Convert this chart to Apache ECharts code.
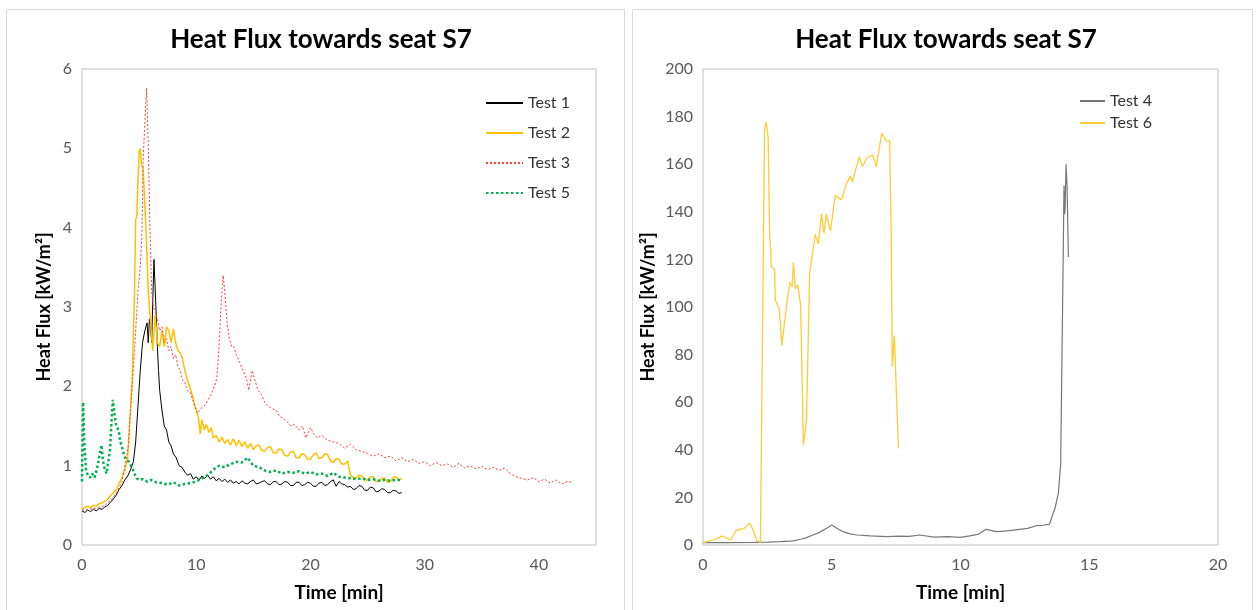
<!DOCTYPE html>
<html>
<head>
<meta charset="utf-8">
<script src="https://cdn.jsdelivr.net/npm/echarts@6/dist/echarts.min.js"></script>
<style>
html,body{margin:0;padding:0;background:#fff;}
#chart{width:1257px;height:610px;}
</style>
</head>
<body>
<div id="chart"></div>
<script>
// ---- Titles / labels ----
const chartTitle = 'Heat Flux towards seat S7';
const yAxisName = 'Heat Flux [kW/m²]';
const xAxisName = 'Time [min]';

// ---- Left chart series: [time (min), heat flux (kW/m²)] ----
const test1 = [
[0,0.43],[0.25,0.41],[0.5,0.44],[0.75,0.42],[1,0.45],[1.25,0.43],[1.5,0.46],[1.75,0.45],[2,0.48],[2.25,0.5],
[2.5,0.54],[2.75,0.58],[3,0.63],[3.25,0.7],[3.5,0.75],[3.75,0.82],[4,0.87],[4.25,0.95],[4.5,1.05],[4.7,1.3],
[4.9,1.75],[5.1,2.2],[5.3,2.55],[5.5,2.7],[5.7,2.8],[5.8,2.55],[5.9,2.85],[6,2.75],[6.1,2.55],[6.2,3.1],
[6.3,3.6],[6.4,3.25],[6.5,2.9],[6.6,2.5],[6.7,2.2],[6.8,1.95],[7,1.7],[7.2,1.5],[7.4,1.45],[7.6,1.3],
[7.8,1.25],[8,1.15],[8.25,1.1],[8.5,1.0],[8.75,0.98],[9,0.92],[9.25,0.88],[9.5,0.9],[9.75,0.83],[10,0.86],
[10.25,0.82],[10.5,0.87],[10.75,0.84],[11,0.88],[11.25,0.83],[11.5,0.86],[11.75,0.81],[12,0.84],[12.25,0.8],[12.5,0.83],
[12.75,0.79],[13,0.82],[13.25,0.78],[13.5,0.8],[13.75,0.77],[14,0.81],[14.25,0.78],[14.5,0.77],[14.75,0.8],[15,0.82],
[15.25,0.77],[15.5,0.78],[15.75,0.8],[16,0.81],[16.25,0.77],[16.5,0.76],[16.75,0.8],[17,0.8],[17.25,0.76],[17.5,0.77],
[17.75,0.8],[18,0.79],[18.25,0.75],[18.5,0.75],[18.75,0.79],[19,0.79],[19.25,0.75],[19.5,0.76],[19.75,0.79],[20,0.78],
[20.25,0.74],[20.5,0.74],[20.75,0.78],[21,0.79],[21.25,0.75],[21.5,0.76],[21.75,0.8],[22,0.82],[22.25,0.74],[22.5,0.8],
[22.75,0.77],[23,0.76],[23.25,0.73],[23.5,0.74],[23.75,0.7],[24,0.71],[24.25,0.75],[24.5,0.74],[24.75,0.69],[25,0.69],
[25.25,0.73],[25.5,0.72],[25.75,0.67],[26,0.68],[26.25,0.71],[26.5,0.7],[26.75,0.66],[27,0.66],[27.25,0.69],[27.5,0.68],
[27.75,0.65],[28,0.66]
];
const test2 = [
[0,0.46],[0.25,0.47],[0.5,0.49],[0.75,0.47],[1,0.5],[1.25,0.49],[1.5,0.52],[1.75,0.53],[2,0.55],[2.25,0.58],
[2.5,0.62],[2.75,0.66],[3,0.7],[3.25,0.78],[3.5,0.85],[3.75,0.95],[4,1.1],[4.2,1.6],[4.4,2.1],[4.6,3.2],
[4.7,4.1],[4.8,4.15],[4.9,4.6],[5,4.95],[5.1,5.0],[5.2,4.8],[5.35,4.75],[5.5,4.3],[5.65,3.8],[5.8,3.2],
[6,2.8],[6.2,2.45],[6.4,2.9],[6.6,2.55],[6.8,2.5],[7,2.7],[7.2,2.5],[7.4,2.75],[7.6,2.7],[7.8,2.55],
[8,2.72],[8.2,2.55],[8.4,2.45],[8.6,2.42],[8.8,2.35],[9,2.2],[9.2,2.1],[9.4,2.0],[9.6,1.92],[9.8,1.8],
[10,1.7],[10.2,1.6],[10.35,1.4],[10.5,1.58],[10.7,1.45],[10.9,1.52],[11.1,1.42],[11.3,1.48],[11.5,1.35],[11.75,1.38],
[12,1.3],[12.25,1.36],[12.5,1.28],[12.75,1.33],[13,1.26],[13.25,1.34],[13.5,1.25],[13.75,1.32],[14,1.24],[14.25,1.3],
[14.5,1.22],[14.75,1.28],[15,1.2],[15.25,1.25],[15.5,1.26],[15.75,1.19],[16,1.18],[16.25,1.23],[16.5,1.24],[16.75,1.16],
[17,1.16],[17.25,1.21],[17.5,1.2],[17.75,1.13],[18,1.12],[18.25,1.17],[18.5,1.18],[18.75,1.1],[19,1.1],[19.25,1.15],
[19.5,1.14],[19.75,1.08],[20,1.08],[20.25,1.14],[20.5,1.16],[20.75,1.09],[21,1.1],[21.25,1.15],[21.5,1.14],[21.75,1.06],
[22,1.04],[22.25,1.09],[22.5,1.08],[22.75,1.02],[23,1.02],[23.25,1.06],[23.5,0.88],[23.75,0.85],[24,0.84],[24.25,0.88],
[24.5,0.87],[24.75,0.82],[25,0.82],[25.25,0.86],[25.5,0.86],[25.75,0.8],[26,0.8],[26.25,0.84],[26.5,0.84],[26.75,0.79],
[27,0.8],[27.25,0.85],[27.5,0.86],[27.75,0.82],[28,0.84]
];
const test3 = [
[0,0.44],[0.5,0.45],[1,0.46],[1.5,0.47],[2,0.5],[2.5,0.56],[3,0.65],[3.5,0.8],[3.9,1.1],[4.05,1.25],
[4.3,1.8],[4.6,2.45],[4.9,3.2],[5.1,3.5],[5.25,3.93],[5.35,4.85],[5.5,5.3],[5.65,5.76],[5.8,5.07],[5.95,4.0],
[6.1,3.2],[6.25,3.0],[6.4,2.95],[6.6,2.85],[6.8,2.7],[7,2.75],[7.2,2.55],[7.4,2.6],[7.6,2.45],[7.8,2.5],
[8,2.35],[8.2,2.4],[8.4,2.25],[8.6,2.2],[8.8,2.08],[9,2.05],[9.2,1.95],[9.5,1.92],[9.8,1.78],[10.1,1.66],
[10.4,1.72],[10.7,1.75],[11,1.82],[11.3,1.9],[11.6,2.0],[11.8,2.1],[12,2.5],[12.2,3.1],[12.35,3.4],[12.5,3.2],
[12.7,2.8],[12.9,2.6],[13.1,2.5],[13.3,2.5],[13.5,2.4],[13.8,2.3],[14.1,2.2],[14.4,2.1],[14.6,1.95],[14.9,2.2],
[15.1,2.1],[15.4,1.95],[15.7,1.9],[16,1.8],[16.3,1.75],[16.6,1.72],[17,1.7],[17.3,1.62],[17.6,1.6],[18,1.55],
[18.3,1.5],[18.6,1.52],[19,1.45],[19.3,1.5],[19.6,1.35],[20,1.48],[20.3,1.4],[20.6,1.35],[21,1.38],[21.5,1.32],
[22,1.3],[22.5,1.28],[23,1.22],[23.5,1.27],[24,1.2],[24.5,1.18],[25,1.15],[25.5,1.12],[26,1.15],[26.5,1.1],
[27,1.12],[27.5,1.06],[28,1.1],[28.5,1.05],[29,1.08],[29.5,1.03],[30,1.05],[30.5,1.0],[31,1.04],[31.5,1.0],
[32,1.02],[32.5,0.98],[33,1.03],[33.5,0.97],[34,1.0],[34.5,0.96],[35,0.99],[35.5,0.95],[36,0.98],[36.5,0.94],
[37,0.97],[37.5,0.9],[38,0.86],[38.5,0.84],[39,0.82],[39.5,0.85],[40,0.8],[40.5,0.83],[41,0.78],[41.5,0.82],
[42,0.77],[42.5,0.8],[43,0.79]
];
const test5 = [
[0,0.8],[0.1,1.8],[0.2,1.3],[0.35,0.95],[0.5,0.88],[0.7,0.85],[0.9,0.9],[1.1,0.85],[1.3,0.95],[1.5,1.1],
[1.7,1.26],[1.85,1.05],[2,0.95],[2.15,0.9],[2.3,0.88],[2.45,1.2],[2.6,1.6],[2.7,1.83],[2.85,1.65],[3,1.5],
[3.2,1.45],[3.35,1.3],[3.5,1.24],[3.7,1.12],[3.9,1.07],[4.1,1.05],[4.4,0.97],[4.6,0.9],[4.8,0.84],[5,0.82],
[5.3,0.83],[5.7,0.8],[6,0.82],[6.5,0.79],[7,0.78],[7.5,0.76],[8,0.79],[8.5,0.75],[9,0.77],[9.5,0.78],
[10,0.8],[10.5,0.84],[11,0.88],[11.5,0.95],[12,1.0],[12.5,0.98],[13,1.02],[13.5,1.05],[14,1.04],[14.5,1.1],
[15,1.0],[15.5,0.98],[16,0.94],[16.5,0.92],[17,0.94],[17.5,0.9],[18,0.92],[18.5,0.91],[19,0.93],[19.5,0.9],
[20,0.92],[20.5,0.89],[21,0.9],[21.5,0.87],[22,0.91],[22.5,0.86],[23,0.85],[23.5,0.84],[24,0.83],[24.5,0.84],
[25,0.82],[25.5,0.83],[26,0.81],[26.5,0.82],[27,0.81],[27.5,0.82],[28,0.82]
];

// ---- Right chart series ----
const test4 = [
[0,1.0],[1,1.0],[2,1.1],[2.5,1.2],[3,1.4],[3.5,1.7],[3.8,2.4],[4.0,3.0],[4.27,4.2],[4.5,5.2],
[4.8,7.0],[5.0,8.4],[5.2,7.0],[5.44,5.6],[5.7,4.7],[5.97,4.2],[6.5,3.8],[7.13,3.5],[7.6,3.7],[8.0,3.6],
[8.41,4.2],[8.97,3.3],[9.5,3.5],[10.0,3.2],[10.36,3.8],[10.7,4.6],[11.0,6.6],[11.39,5.6],[11.8,5.9],[12.3,6.6],
[12.6,7.0],[12.95,8.1],[13.2,8.3],[13.46,8.8],[13.6,13.4],[13.66,15],[13.8,21.7],[13.83,25.8],[13.89,34],[13.98,114],
[14.02,151],[14.04,139],[14.06,141],[14.1,160],[14.14,150],[14.19,121]
];
const test6 = [
[0,1.0],[0.4,2.0],[0.76,3.8],[1.07,2.1],[1.3,6.2],[1.6,7.0],[1.8,9.2],[1.92,7.0],[2.08,2.1],[2.23,1.0],
[2.39,174.6],[2.45,177.8],[2.53,171],[2.59,128.9],[2.62,126],[2.65,117],[2.78,115.8],[2.81,102.7],[2.96,99.4],[3.06,84],
[3.12,83.9],[3.27,102.7],[3.37,110.5],[3.46,108.4],[3.51,118.7],[3.58,107.6],[3.68,109.2],[3.79,101],[3.9,42.2],[4.02,52],
[4.14,114],[4.27,124],[4.36,130.5],[4.48,126.4],[4.6,139],[4.7,131],[4.79,139],[4.95,132],[5.14,146.9],[5.38,145],
[5.57,151.8],[5.73,155],[5.8,152.6],[5.96,159],[6.07,163.2],[6.19,159],[6.35,162.4],[6.58,164],[6.73,159],[6.94,173],
[7.12,169.8],[7.25,169.8],[7.31,128.9],[7.35,74.9],[7.43,88],[7.59,40.6]
];

const FONT = 'Lato, "Open Sans", sans-serif';
const LABEL_COLOR = '#595959';

function xAxisCfg(gridIndex, max, interval) {
  return {
    type: 'value', gridIndex: gridIndex, min: 0, max: max, interval: interval,
    name: xAxisName, nameLocation: 'middle', nameGap: 38,
    nameTextStyle: {fontFamily: FONT, fontWeight: 'bold', fontSize: 19, color: '#000'},
    axisLine: {show: false}, axisTick: {show: false}, splitLine: {show: false},
    axisLabel: {fontFamily: FONT, fontSize: 16, color: LABEL_COLOR, margin: 12, showMaxLabel: max % interval === 0}
  };
}
function yAxisCfg(gridIndex, max, interval, gap) {
  return {
    type: 'value', gridIndex: gridIndex, min: 0, max: max, interval: interval,
    name: yAxisName, nameLocation: 'middle', nameGap: gap,
    nameTextStyle: {fontFamily: FONT, fontWeight: 'bold', fontSize: 18, color: '#000'},
    axisLine: {show: false}, axisTick: {show: false}, splitLine: {show: false},
    axisLabel: {fontFamily: FONT, fontSize: 16, color: LABEL_COLOR, margin: 10}
  };
}
function lineSeries(name, data, xi, color, width, dash) {
  return {
    name: name, type: 'line', data: data, xAxisIndex: xi, yAxisIndex: xi,
    symbol: 'none', smooth: false, animation: false,
    lineStyle: {color: color, width: width, type: dash || 'solid'},
    itemStyle: {color: color}
  };
}

const chart = echarts.init(document.getElementById('chart'), null, {renderer: 'canvas'});
chart.setOption({
  backgroundColor: '#fff',
  animation: false,
  graphic: [
    {type: 'rect', shape: {x: 6.5, y: 9.5, width: 618, height: 620}, style: {fill: null, stroke: '#D9D9D9', lineWidth: 1}, silent: true, z: -10},
    {type: 'rect', shape: {x: 632.5, y: 9.5, width: 620, height: 620}, style: {fill: null, stroke: '#D9D9D9', lineWidth: 1}, silent: true, z: -10}
  ],
  title: [
    {text: chartTitle, left: 316, top: 22, textAlign: 'center', textStyle: {fontFamily: FONT, fontWeight: 'bold', fontSize: 26, color: '#000'}},
    {text: chartTitle, left: 941, top: 22, textAlign: 'center', textStyle: {fontFamily: FONT, fontWeight: 'bold', fontSize: 26, color: '#000'}}
  ],
  legend: [
    {data: ['Test 1', 'Test 2', 'Test 3', 'Test 5'], orient: 'vertical', left: 485, top: 95, padding: 0,
     itemWidth: 37, itemHeight: 14, itemGap: 14,
     itemStyle: {opacity: 0},
     textStyle: {fontFamily: FONT, fontSize: 16, color: '#333'}},
    {data: ['Test 4', 'Test 6'], orient: 'vertical', left: 1079, top: 93, padding: 0,
     itemWidth: 25, itemHeight: 12, itemGap: 6,
     itemStyle: {opacity: 0},
     textStyle: {fontFamily: FONT, fontSize: 16, color: '#333'}}
  ],
  grid: [
    {left: 82, top: 69, width: 514, height: 476, show: true, borderColor: '#BFBFBF', borderWidth: 1, backgroundColor: 'transparent'},
    {left: 703, top: 69, width: 515, height: 476, show: true, borderColor: '#BFBFBF', borderWidth: 1, backgroundColor: 'transparent'}
  ],
  xAxis: [xAxisCfg(0, 45, 10), xAxisCfg(1, 20, 5)],
  yAxis: [yAxisCfg(0, 6, 1, 29), yAxisCfg(1, 200, 20, 46)],
  series: [
    lineSeries('Test 1', test1, 0, '#000000', 1),
    lineSeries('Test 2', test2, 0, '#FFC000', 1.5),
    lineSeries('Test 3', test3, 0, '#FF3B3B', 1, [2, 2]),
    lineSeries('Test 5', test5, 0, '#00B050', 2.5, [2.5, 2.5]),
    lineSeries('Test 4', test4, 1, '#777777', 1.2),
    lineSeries('Test 6', test6, 1, '#FFCC33', 1.3)
  ]
});
</script>
</body>
</html>
